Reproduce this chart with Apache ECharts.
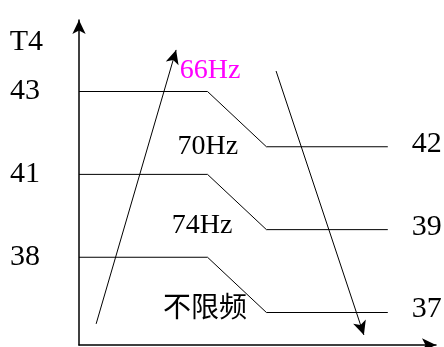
<!DOCTYPE html>
<html>
<head>
<meta charset="UTF-8">
<title>T4</title>
<script src="https://cdn.jsdelivr.net/npm/echarts@6/dist/echarts.min.js"></script>
</head>
<body style="margin:0;background:#fff">
<div id="main" style="width:444px;height:347px"></div>
<script type="text/javascript">
    // schematic units, 0-100 on both axes
    var xBreaks = [0, 36, 52.5, 86.5];
    var highT = ['43', '41', '38'];
    var lowT = ['42', '39', '37'];
    var highY = [78, 52.5, 27];
    var lowY = [61, 35.5, 10];
    var zoneNames = ['66Hz', '70Hz', '74Hz', '不限频'];
    var zoneX = [36.7, 36.1, 34.5, 35.3];
    var zoneY = [84.3, 60.9, 36.6, 10.8];
    var upArrow = [[4.8, 6.5], [27.2, 90.8]];
    var downArrow = [[55.2, 84.3], [79.8, 3.1]];

    var font = "'Liberation Serif', 'Noto Sans CJK SC', serif";
    var arrowSize = [10, 14];

    var series = [];
    for (var i = 0; i < highY.length; i++) {
        series.push({
            type : 'line',
            silent : true,
            symbol : 'none',
            lineStyle : { color : '#000', width : 1 },
            data : [
                [xBreaks[0], highY[i]],
                [xBreaks[1], highY[i]],
                [xBreaks[2], lowY[i]],
                [xBreaks[3], lowY[i]]
            ],
            endLabel : {
                show : true,
                formatter : lowT[i],
                distance : 24,
                offset : [0, -3],
                color : '#000',
                fontSize : 30,
                fontFamily : font
            }
        });
    }

    var zoneData = [];
    for (var j = 0; j < zoneNames.length; j++) {
        zoneData.push({
            value : [zoneX[j], zoneY[j]],
            name : zoneNames[j],
            label : { color : j === 0 ? '#ff00ff' : '#000' }
        });
    }
    series.push({
        type : 'scatter',
        silent : true,
        symbolSize : 0,
        itemStyle : { opacity : 1 },
        data : zoneData,
        label : {
            show : true,
            position : 'inside',
            formatter : '{b}',
            fontSize : 28,
            fontFamily : font,
            textBorderWidth : 0
        }
    });

    series.push({
        type : 'line',
        silent : true,
        data : [],
        markLine : {
            silent : true,
            symbol : [ 'none', 'arrow' ],
            symbolSize : arrowSize,
            lineStyle : { color : '#000', width : 1, type : 'solid' },
            label : { show : false },
            data : [
                [ { coord : upArrow[0] }, { coord : upArrow[1] } ],
                [ { coord : downArrow[0] }, { coord : downArrow[1] } ]
            ]
        }
    });

    var chart = echarts.init(document.getElementById('main'));
    chart.setOption({
        animation : false,
        backgroundColor : '#fff',
        grid : { left : 79, right : 8, top : 20, bottom : 2 },
        xAxis : {
            type : 'value',
            min : 0,
            max : 100,
            axisLine : {
                show : true,
                symbol : [ 'none', 'arrow' ],
                symbolSize : arrowSize,
                lineStyle : { color : '#000', width : 1.5 }
            },
            axisTick : { show : false },
            axisLabel : { show : false },
            splitLine : { show : false }
        },
        yAxis : {
            type : 'value',
            min : 0,
            max : 100,
            name : 'T4',
            nameLocation : 'end',
            nameGap : -37,
            nameTextStyle : {
                color : '#000',
                fontSize : 30,
                fontFamily : font,
                align : 'right',
                padding : [ 0, 36, 0, 0 ]
            },
            axisLine : {
                show : true,
                symbol : [ 'none', 'arrow' ],
                symbolSize : arrowSize,
                lineStyle : { color : '#000', width : 1.5 }
            },
            axisTick : { show : false },
            splitLine : { show : false },
            axisLabel : {
                customValues : highY,
                margin : 39,
                color : '#000',
                fontSize : 30,
                fontFamily : font,
                formatter : function(v) {
                    return highT[highY.indexOf(v)];
                }
            }
        },
        series : series
    });
</script>
</body>
</html>
